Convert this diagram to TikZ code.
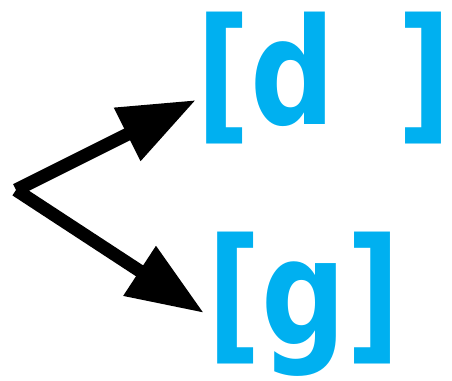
\documentclass[tikz,border=0pt]{standalone}
\usepackage{fontspec}
\usetikzlibrary{arrows.meta}
\newfontfamily\lblfont{DejaVu Sans}
\definecolor{lblblue}{HTML}{00B0F0}
\begin{document}
\begin{tikzpicture}[x=1pt,y=1pt,
  lbl/.style={text=lblblue,inner sep=0pt,anchor=base west,
    font=\lblfont\bfseries\fontsize{148}{148}\selectfont,xscale=0.8},
  arr/.style={line width=13pt,-{Triangle[length=77pt,width=56pt]}}]
\useasboundingbox (0,0) rectangle (452,380);
\node[lbl] (top) at (196,255) {[d\hspace{0.53em}]};
\node[lbl] (bot) at (207,35) {[g]};
\coordinate (s) at (16,190);
\coordinate (t1) at (196,280);
\coordinate (t2) at (204,67);
\draw[arr] (s) -- (t1);
\draw[arr] (s) -- (t2);
\end{tikzpicture}
\end{document}
